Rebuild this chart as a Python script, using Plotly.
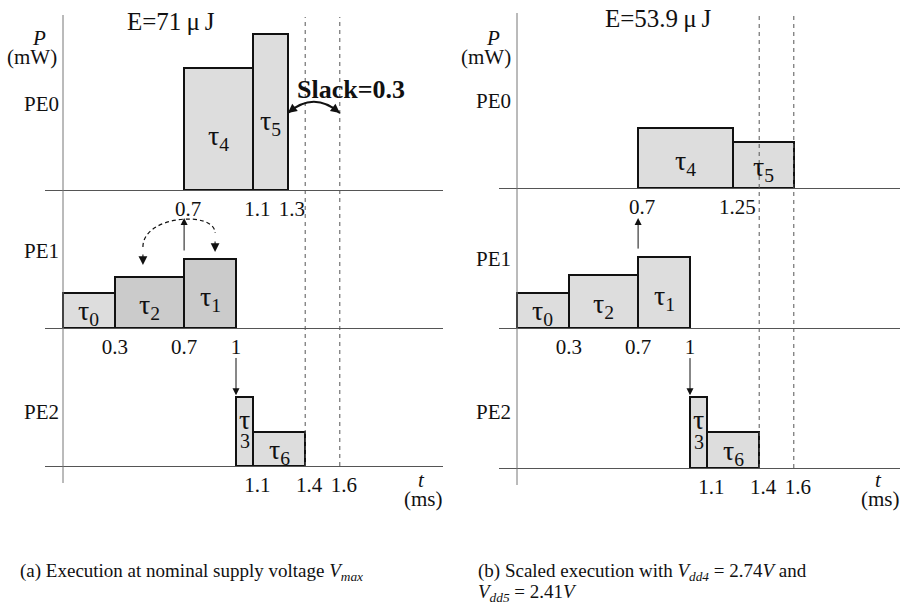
import plotly.graph_objects as go

W, H = 906, 606
FONT = "Liberation Serif"
INK = "#111111"

# ---------------------------------------------------------------- data
# Tasks in drawing order: task index, processing element, start/end (ms), power (mW)
task_ids = [0, 2, 1, 4, 5, 3, 6]
task_pe = [1, 1, 1, 0, 0, 2, 2]

# (a) every task at nominal supply voltage
start_a = [0.0, 0.3, 0.7, 0.7, 1.1, 1.0, 1.1]
end_a = [0.3, 0.7, 1.0, 1.1, 1.3, 1.1, 1.4]
power_a = [16.7, 24.4, 33.0, 58.3, 74.5, 33.0, 16.2]
fill_a = ["#dddddd", "#cbcbcb", "#cbcbcb", "#dddddd", "#dddddd", "#dddddd", "#dddddd"]
energy_a = "71"

# (b) tau4 and tau5 stretched with scaled supply voltage
start_b = [0.0, 0.3, 0.7, 0.7, 1.25, 1.0, 1.1]
end_b = [0.3, 0.7, 1.0, 1.25, 1.6, 1.1, 1.4]
power_b = [16.7, 25.3, 33.9, 28.7, 22.0, 33.9, 17.2]
fill_b = ["#dddddd"] * 7
energy_b = "53.9"

# time-axis labels per processing element row (PE0, PE1, PE2)
ticks_a = [[0.7, 1.1, 1.3], [0.3, 0.7, 1], [1.1, 1.4, 1.6]]
ticks_b = [[0.7, 1.25], [0.3, 0.7, 1], [1.1, 1.4, 1.6]]

deadline = 1.6
guide_times = [1.4, 1.6]          # tau6 finish and the deadline
pe_names = ["PE0", "PE1", "PE2"]

caption_lines = [
    ["(a) Execution at nominal supply voltage <i>V<sub>max</sub></i>"],
    ["(b) Scaled execution with <i>V<sub>dd4</sub></i> = 2.74<i>V</i> and",
     "<i>V<sub>dd5</sub></i> = 2.41<i>V</i>"],
]

# ---------------------------------------------------------------- layout geometry (pixels)
PX_PER_MS = 173.0
PX_PER_MW = 2.094
panels = [
    dict(start=start_a, end=end_a, power=power_a, fill=fill_a, ticks=ticks_a,
         energy=energy_a, x0=63, xl=45, xr=443, bases=[190, 328, 466],
         tops=[8, 195, 335], vtop=15, vbot=483, gtop=17, ex=171, ey=22,
         shift=[4, 0, 4], pe_x=41, pe_y=[104, 251, 412], cap_x=18),
    dict(start=start_b, end=end_b, power=power_b, fill=fill_b, ticks=ticks_b,
         energy=energy_b, x0=517, xl=499, xr=900, bases=[188, 328, 468],
         tops=[8, 195, 335], vtop=13, vbot=485, gtop=13, ex=658, ey=19,
         shift=[4, 0, 4], pe_x=493, pe_y=[101, 259, 412], cap_x=476),
]


def px(x):
    return x / W


def py(y):
    return 1 - y / H


def txt(x, y, text, size, **kw):
    d = dict(x=px(x), y=py(y), xref="paper", yref="paper", text=text,
             xanchor="center", yanchor="middle", showarrow=False,
             font=dict(family=FONT, size=size, color=INK))
    d.update(kw)
    return d


fig = go.Figure()
layout = dict(width=W, height=H, margin=dict(l=0, r=0, t=0, b=0),
              paper_bgcolor="white", plot_bgcolor="rgba(0,0,0,0)",
              showlegend=False, bargap=0)
annotations, shapes = [], []

for p, pan in enumerate(panels):
    for r in range(3):
        k = p * 3 + r + 1
        xs = "" if k == 1 else str(k)
        base, top = pan["bases"][r], pan["tops"][r]
        layout["xaxis" + xs] = dict(
            domain=[px(pan["xl"]), px(pan["xr"])],
            range=[(pan["xl"] - pan["x0"]) / PX_PER_MS, (pan["xr"] - pan["x0"]) / PX_PER_MS],
            anchor="y" + xs, showline=True, linecolor="#555555", linewidth=1,
            showgrid=False, zeroline=False, ticks="",
            tickvals=pan["ticks"][r], ticktext=[f"{v:g}" for v in pan["ticks"][r]],
            tickfont=dict(family=FONT, size=21, color=INK),
            ticklabelshift=pan["shift"][r], ticklabelstandoff=0, fixedrange=True)
        layout["yaxis" + xs] = dict(
            domain=[py(base), py(top)], range=[0, (base - top) / PX_PER_MW],
            anchor="x" + xs, visible=False, fixedrange=True)

        idx = [i for i in range(len(task_ids)) if task_pe[i] == r]
        s = [pan["start"][i] for i in idx]
        e = [pan["end"][i] for i in idx]
        fig.add_trace(go.Bar(
            x=[(a + b) / 2 for a, b in zip(s, e)], width=[b - a for a, b in zip(s, e)],
            y=[pan["power"][i] for i in idx],
            marker=dict(color=[pan["fill"][i] for i in idx], line=dict(color=INK, width=2)),
            xaxis="x" + xs, yaxis="y" + xs, hoverinfo="skip"))

        # task names inside the bars
        for i in idx:
            cx = (pan["start"][i] + pan["end"][i]) / 2
            pw = pan["power"][i]
            common = dict(xref="x" + xs, yref="y" + xs, showarrow=False)
            if pan["end"][i] - pan["start"][i] < 0.15:
                annotations.append(dict(x=cx, y=pw * 0.68, text="τ",
                                        font=dict(family=FONT, size=28, color=INK), **common))
                annotations.append(dict(x=cx, y=pw * 0.36, text=str(task_ids[i]),
                                        font=dict(family=FONT, size=20, color=INK), **common))
            else:
                annotations.append(dict(x=cx, y=pw * 0.43, text=f"τ<sub>{task_ids[i]}</sub>",
                                        font=dict(family=FONT, size=28, color=INK), **common))

        annotations.append(txt(pan["pe_x"], pan["pe_y"][r], pe_names[r], 21))

    # vertical power axis and dashed time guides
    xr0 = "x" + ("" if p == 0 else "4")
    shapes.append(dict(type="line", xref=xr0, yref="paper",
                       x0=0, x1=0, y0=py(pan["vbot"]), y1=py(pan["vtop"]),
                       line=dict(color="#777777", width=1)))
    for g in guide_times:
        shapes.append(dict(type="line", xref=xr0, yref="paper",
                           x0=g, x1=g, y0=py(pan["bases"][2]), y1=py(pan["gtop"]),
                           line=dict(color="#555555", width=1, dash="4px,4px")))

    # axis captions and energy
    yx = pan["x0"]
    annotations.append(txt(yx - 24, 38, "<i>P</i>", 21))
    annotations.append(txt(yx - 31, 57, "(mW)", 21))
    annotations.append(txt(pan["xr"] - 22, 480, "<i>t</i>", 21))
    annotations.append(txt(pan["xr"] - 20, 499, "(ms)", 21))
    annotations.append(txt(pan["ex"], pan["ey"], f"E={pan['energy']}\u2009μ\u2009J", 25))

    # dependency arrows: tau1 -> PE0 at t=0.7, and tau1 -> tau3 at t=1
    xs1 = str(p * 3 + 2)
    xs2 = str(p * 3 + 3)
    t_dep = pan["start"][2]
    annotations.append(dict(x=t_dep, y=52.5, ax=t_dep, ay=pan["power"][2] + 3.3,
                            xref="x" + xs1, yref="y" + xs1, axref="x" + xs1, ayref="y" + xs1,
                            text="", showarrow=True, arrowhead=2, arrowsize=1.4,
                            arrowwidth=1, arrowcolor=INK))
    t3 = pan["start"][5]
    annotations.append(dict(x=t3, y=pan["power"][5] + 0.8, ax=t3, ay=pan["power"][5] + 19.3,
                            xref="x" + xs2, yref="y" + xs2, axref="x" + xs2, ayref="y" + xs2,
                            text="", showarrow=True, arrowhead=2, arrowsize=1.4,
                            arrowwidth=1, arrowcolor=INK))

    for j, line in enumerate(caption_lines[p]):
        annotations.append(txt(pan["cap_x"], 572 + 21 * j, line, 19, xanchor="left"))

# swap of tau2 / tau1 on PE1 in (a): dashed arc with two heads
xa, xb = 0.462, 0.879
ya, yb = 38.7, 45.4
shapes.append(dict(type="path", xref="x2", yref="y2",
                   path=f"M {xa},{ya} C {xa},{54} {xb},{56} {xb},{yb}",
                   line=dict(color=INK, width=1.2, dash="4px,3px")))
annotations.append(dict(x=xa, y=30.1, xref="x2", yref="y2", ax=0, ay=-12, text="",
                        showarrow=True, arrowhead=2, arrowsize=1.6, arrowwidth=1.1,
                        arrowcolor=INK))
annotations.append(dict(x=xb, y=36.3, xref="x2", yref="y2", ax=0, ay=-12, text="",
                        showarrow=True, arrowhead=2, arrowsize=1.6, arrowwidth=1.1,
                        arrowcolor=INK))

# slack between tau5 finish and the deadline in (a)
t5_end = end_a[4]
slack = deadline - t5_end
ys = 36.8
shapes.append(dict(type="path", xref="x", yref="y",
                   path=f"M {t5_end},{ys} Q {(t5_end + deadline) / 2},{ys + 10.7} {deadline},{ys}",
                   line=dict(color=INK, width=2)))
annotations.append(dict(x=t5_end, y=ys, xref="x", yref="y", ax=9, ay=-7, text="",
                        showarrow=True, arrowhead=2, arrowsize=1, arrowwidth=1.8,
                        arrowcolor=INK))
annotations.append(dict(x=deadline, y=ys, xref="x", yref="y", ax=-9, ay=-7, text="",
                        showarrow=True, arrowhead=2, arrowsize=1, arrowwidth=1.8,
                        arrowcolor=INK))
annotations.append(dict(x=(351 - panels[0]["x0"]) / PX_PER_MS, y=48.2, xref="x", yref="y",
                        text=f"<b>Slack={slack:.1f}</b>", showarrow=False,
                        font=dict(family=FONT, size=26, color=INK)))

layout["annotations"] = annotations
layout["shapes"] = shapes
fig.update_layout(**layout)
fig.write_html("out.html")
